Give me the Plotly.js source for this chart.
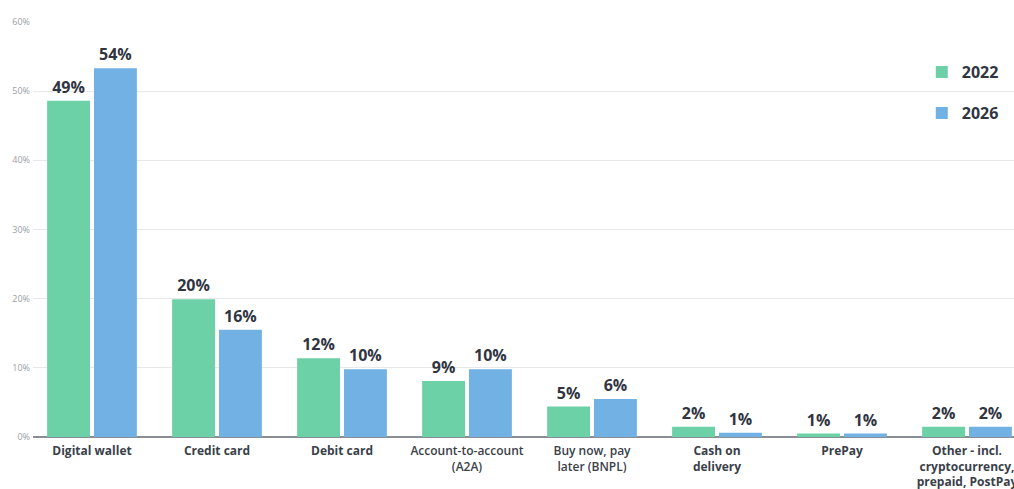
<!DOCTYPE html>
<html>
<head>
<meta charset="utf-8">
<script src="https://cdn.plot.ly/plotly-3.0.1.min.js"></script>
<style>html,body{margin:0;padding:0;background:#fff;}#chart{width:1014px;height:489px;}</style>
</head>
<body>
<div id="chart"></div>
<script>
const categories = [
  "<b>Digital wallet</b>",
  "<b>Credit card</b>",
  "<b>Debit card</b>",
  "Account-to-account<br>(A2A)",
  "Buy now, pay<br>later (BNPL)",
  "<b>Cash on<br>delivery</b>",
  "<b>PrePay</b>",
  "<b>Other - incl.<br>cryptocurrency,<br>prepaid, PostPay</b>"
];
const values2022 = [48.6, 19.9, 11.4, 8.1, 4.4, 1.5, 0.5, 1.5];
const values2026 = [53.3, 15.5, 9.8, 9.8, 5.5, 0.6, 0.5, 1.5];
const labels2022 = ["49%", "20%", "12%", "9%", "5%", "2%", "1%", "2%"];
const labels2026 = ["54%", "16%", "10%", "10%", "6%", "1%", "1%", "2%"];
const yTickVals = [0, 10, 20, 30, 40, 50, 60];
const yTickText = ["0%", "10%", "20%", "30%", "40%", "50%", "60%"];

const textFont = {family: "Open Sans", size: 16, color: "#2f3542", weight: 700};

const traces = [
  {type: "bar", name: "2022", x: categories, y: values2022, text: labels2022,
   texttemplate: "<b>%{text}</b>", textposition: "outside", textfont: textFont,
   constraintext: "none", cliponaxis: false, legendgroup: "a",
   marker: {color: "#6dd1a7"}, hoverinfo: "skip"},
  {type: "bar", name: "2026", x: categories, y: values2026, text: labels2026,
   texttemplate: "<b>%{text}</b>", textposition: "outside", textfont: textFont,
   constraintext: "none", cliponaxis: false, legendgroup: "b",
   marker: {color: "#72b1e3"}, hoverinfo: "skip"}
];

const layout = {
  width: 1014, height: 489,
  margin: {l: 33, r: 0, t: 22, b: 52},
  paper_bgcolor: "#fff", plot_bgcolor: "#fff",
  barmode: "group", bargap: 0.25, bargroupgap: 0.085,
  font: {family: "Open Sans", color: "#3a3f4a"},
  xaxis: {
    range: [-0.472, 7.376], showgrid: false, zeroline: false,
    tickfont: {family: "Open Sans", size: 12, color: "#3a3f4a", weight: 600},
    ticks: "", showline: false, ticklabelstandoff: 5
  },
  yaxis: {
    range: [0, 60], tickvals: yTickVals, ticktext: yTickText,
    tickfont: {family: "Open Sans", size: 9, color: "#9a9ea6"},
    gridcolor: "#e8e8e8", gridwidth: 1,
    zeroline: true, zerolinecolor: "#8a8d93", zerolinewidth: 2,
    ticks: "", ticklen: 0, showline: false, ticklabelstandoff: 2
  },
  showlegend: true,
  legend: {
    x: 0.906, y: 0.92, xanchor: "left", yanchor: "top",
    bgcolor: "rgba(0,0,0,0)", tracegroupgap: 17,
    font: {family: "Open Sans", size: 16, color: "#2f3542", weight: 700},
    itemwidth: 30
  }
};

Plotly.newPlot("chart", traces, layout, {displayModeBar: false, staticPlot: true});
</script>
</body>
</html>
